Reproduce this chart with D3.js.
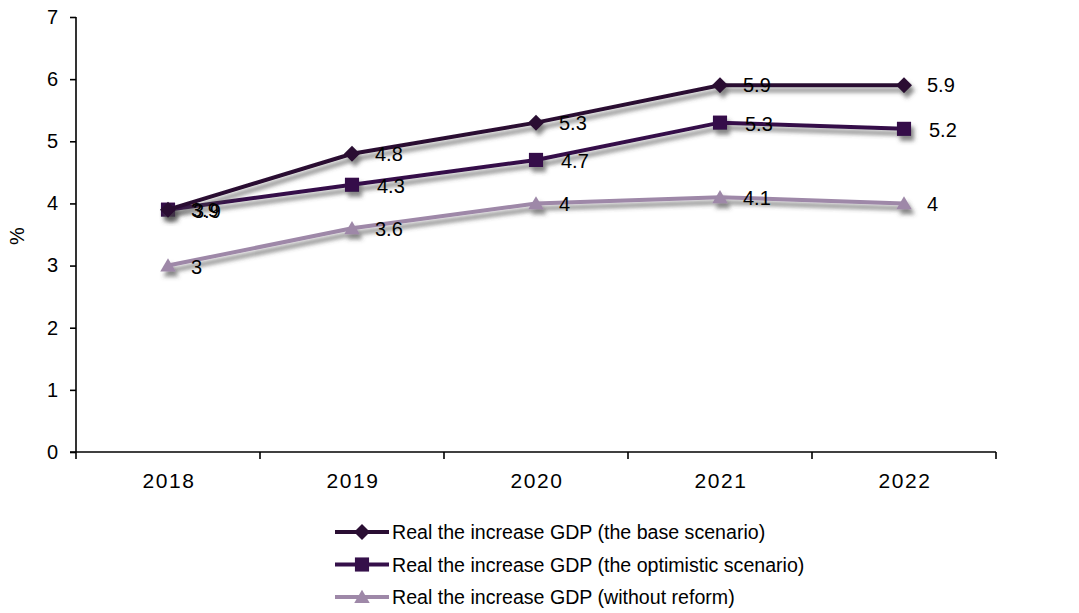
<!DOCTYPE html>
<html>
<head>
<meta charset="utf-8">
<script src="https://cdn.jsdelivr.net/npm/d3@7"></script>
<style>
  html, body { margin: 0; padding: 0; background: #fff; }
  svg { display: block; font-family: "Liberation Sans", Arial, sans-serif; }
</style>
</head>
<body>
<svg id="chart" width="1079" height="613"></svg>
<script>
// Years on the category axis
const years = ["2018", "2019", "2020", "2021", "2022"];
// Real GDP growth, %
const baseScenario = [3.9, 4.8, 5.3, 5.9, 5.9];
const optimisticScenario = [3.9, 4.3, 4.7, 5.3, 5.2];
const withoutReform = [3.0, 3.6, 4.0, 4.1, 4.0];
const yTicks = [0, 1, 2, 3, 4, 5, 6, 7];
const seriesNames = [
  "Real the increase GDP (the base scenario)",
  "Real the increase GDP (the optimistic scenario)",
  "Real the increase GDP (without reform)"
];

// Square-proportioned diamond (a square turned 45 degrees)
const wideDiamond = {
  draw(ctx, size) {
    const r = Math.sqrt(size / 2);
    ctx.moveTo(0, -r); ctx.lineTo(r, 0); ctx.lineTo(0, r); ctx.lineTo(-r, 0); ctx.closePath();
  }
};
// Triangle a little wider than tall
const flatTriangle = {
  draw(ctx, size) {
    const w = Math.sqrt(size * 1.6), h = w * 0.85;
    ctx.moveTo(0, -h * 0.55); ctx.lineTo(w / 2, h * 0.45); ctx.lineTo(-w / 2, h * 0.45); ctx.closePath();
  }
};

const series = [
  { name: seriesNames[0], values: baseScenario, color: "#2a0e33", symbol: wideDiamond, size: 128, labelDx: 23, labelDy: 7 },
  { name: seriesNames[1], values: optimisticScenario, color: "#35104a", symbol: d3.symbolSquare, size: 200, labelDx: 25, labelDy: 8 },
  { name: seriesNames[2], values: withoutReform, color: "#9e88a8", symbol: flatTriangle, size: 150, labelDx: 23, labelDy: 8 }
];

const svg = d3.select("#chart");
const plotLeft = 76, plotRight = 996, plotTop = 17, plotBottom = 452;

const x = d3.scaleBand().domain(years).range([plotLeft, plotRight]);
const y = d3.scaleLinear().domain([0, 7]).range([plotBottom, plotTop]);
const cx = d => x(d) + x.bandwidth() / 2;

// Soft drop shadow under lines and markers
const defs = svg.append("defs");
const f = defs.append("filter").attr("id", "shadow")
  .attr("x", "-20%").attr("y", "-20%").attr("width", "140%").attr("height", "160%");
f.append("feDropShadow").attr("dx", 3).attr("dy", 5).attr("stdDeviation", 2.2)
  .attr("flood-color", "#444").attr("flood-opacity", 0.65);

// Y axis
const yAxis = svg.append("g").attr("transform", `translate(${plotLeft},0)`)
  .call(d3.axisLeft(y).tickValues(yTicks).tickSize(6).tickPadding(12).tickFormat(d3.format("d")));
yAxis.select(".domain").attr("stroke", "#000").attr("stroke-width", 1.6).attr("d", `M0,${plotTop}V${plotBottom}`);
yAxis.selectAll(".tick line").attr("stroke", "#000").attr("stroke-width", 1.6);
yAxis.selectAll(".tick text").attr("font-size", 20).attr("fill", "#000")
  .attr("font-family", "Liberation Sans, Arial, sans-serif");

// X axis with ticks at band boundaries
const xAxis = svg.append("g").attr("transform", `translate(0,${plotBottom})`);
xAxis.append("line").attr("x1", plotLeft - 6).attr("x2", plotRight).attr("y1", 0).attr("y2", 0)
  .attr("stroke", "#000").attr("stroke-width", 1.6);
const bounds = years.map(d => x(d)).concat([x(years[years.length - 1]) + x.bandwidth()]);
xAxis.selectAll("line.tk").data(bounds).enter().append("line").attr("class", "tk")
  .attr("x1", d => d).attr("x2", d => d).attr("y1", 0).attr("y2", 7)
  .attr("stroke", "#000").attr("stroke-width", 1.6);
xAxis.selectAll("text").data(years).enter().append("text")
  .attr("x", d => cx(d) + 1).attr("y", 36).attr("text-anchor", "middle")
  .attr("font-size", 21).attr("letter-spacing", 1.6).text(d => d);

// Y axis title
svg.append("text").attr("transform", "translate(24,236) rotate(-90)")
  .attr("text-anchor", "middle").attr("font-size", 20).text("%");

// Series lines and markers
const line = d3.line().x((d, i) => cx(years[i])).y(d => y(d));
const plot = svg.append("g");
series.slice().reverse().forEach(s => {
  const g = plot.append("g").attr("filter", "url(#shadow)");
  g.append("path").datum(s.values).attr("d", line)
    .attr("fill", "none").attr("stroke", s.color).attr("stroke-width", 4);
  g.selectAll("path.m").data(s.values).enter().append("path").attr("class", "m")
    .attr("transform", (d, i) => `translate(${cx(years[i])},${y(d)})`)
    .attr("d", d3.symbol().type(s.symbol).size(s.size)).attr("fill", s.color);
});

// Value labels
series.forEach(s => {
  svg.append("g").selectAll("text").data(s.values).enter().append("text")
    .attr("x", (d, i) => cx(years[i]) + s.labelDx)
    .attr("y", d => y(d) + s.labelDy)
    .attr("font-size", 20).attr("fill", "#000")
    .text(d => d3.format("")(d));
});

// Legend
const legend = svg.append("g");
series.forEach((s, i) => {
  const ly = 532 + i * 32.5;
  const row = legend.append("g");
  row.append("line").attr("x1", 335).attr("x2", 389).attr("y1", ly).attr("y2", ly)
    .attr("stroke", s.color).attr("stroke-width", 4);
  row.append("path").attr("transform", `translate(362,${ly})`)
    .attr("d", d3.symbol().type(s.symbol).size(s.size)).attr("fill", s.color);
  row.append("text").attr("x", 392).attr("y", ly + 7).attr("font-size", 19.6).text(s.name);
});
</script>
</body>
</html>
